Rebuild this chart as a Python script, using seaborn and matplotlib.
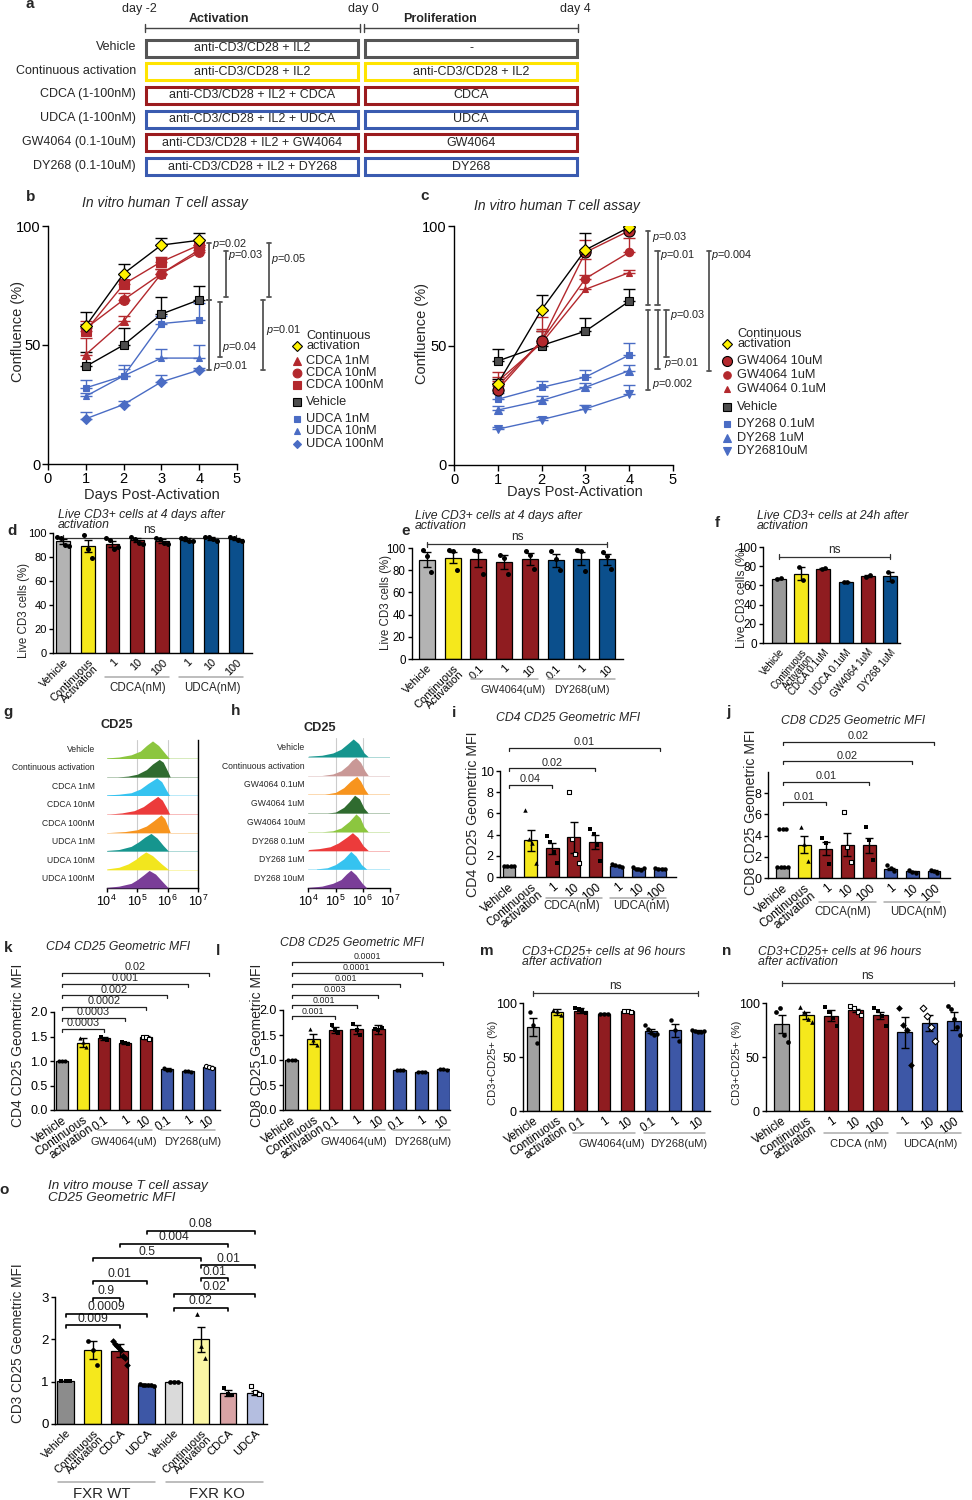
import numpy as np
import pandas as pd
import matplotlib
matplotlib.use("Agg")
import matplotlib.pyplot as plt
import matplotlib.transforms as mtransforms
from matplotlib.patches import Rectangle
import seaborn as sns
import warnings

warnings.filterwarnings("ignore")

# ----------------------------
# 1. Values
# ----------------------------

# a: treatment scheme
a_rows = ["Vehicle", "Continuous activation", "CDCA (1-100nM)", "UDCA (1-100nM)",
          "GW4064 (0.1-10uM)", "DY268 (0.1-10uM)"]
a_activation = ["anti-CD3/CD28 + IL2", "anti-CD3/CD28 + IL2", "anti-CD3/CD28 + IL2 + CDCA",
                "anti-CD3/CD28 + IL2 + UDCA", "anti-CD3/CD28 + IL2 + GW4064",
                "anti-CD3/CD28 + IL2 + DY268"]
a_prolif = ["-", "anti-CD3/CD28 + IL2", "CDCA", "UDCA", "GW4064", "DY268"]
a_edges = ["#555555", "#FFE400", "#9B1B1E", "#3A5BB0", "#9B1B1E", "#3A5BB0"]

# b / c: confluence time course (mean, upper SEM)
days = [1, 2, 3, 4]
b_groups = ["Continuous activation", "CDCA 1nM", "CDCA 10nM", "CDCA 100nM",
            "Vehicle", "UDCA 1nM", "UDCA 10nM", "UDCA 100nM"]
b_mean = [[58, 80, 92, 94], [46, 60, 80, 90], [57, 69, 80, 89], [56, 75.5, 85, 92],
          [41, 50, 63, 69], [32, 37, 59, 60.5], [28.5, 37, 44.5, 44.5], [19, 25, 34.5, 39.5]]
b_err = [[6, 4, 3, 3], [7, 2, 2, 2], [3, 3, 2, 2], [3, 2, 2, 2],
         [6, 7, 7, 6], [3.5, 4.5, 3, 7], [1.5, 3, 4, 5.5], [3, 1.5, 3, 1]]
b_pvals = ["0.02", "0.01", "0.03", "0.04", "0.05", "0.01"]
b_sig_span = [(93, 69), (69, 39.5), (89.5, 70), (68, 45), (92.7, 70.3), (69, 39.5)]

c_groups = ["Continuous activation", "GW4064 10uM", "GW4064 1uM", "GW4064 0.1uM",
            "Vehicle", "DY268 0.1uM", "DY268 1uM", "DY26810uM"]
c_mean = [[34, 65, 90, 99.5], [31.5, 52, 89, 98], [33, 52, 78, 89], [35, 51, 73.5, 80.5],
          [43.5, 50, 56, 68.5], [27.5, 32.5, 36.8, 46], [23, 27, 32.5, 39.5], [15, 19, 23.5, 29.5]]
c_err = [[2, 6, 7, 0.5], [3, 4, 5, 1.5], [4, 10, 8, 6], [4, 6, 6, 1],
         [5, 6, 5.5, 5], [2.5, 2.5, 3, 5], [1.5, 2, 2, 2.5], [1, 1, 1.5, 4]]
c_pvals = ["0.03", "0.002", "0.01", "0.01", "0.03", "0.004"]
c_sig_span = [(98, 67), (65, 31.4), (89.5, 67), (65, 40), (65, 45.3), (89.5, 39.5)]

# d: live CD3+ at 4 days (bile acids)
d_groups = ["Vehicle", "Continuous Activation", "CDCA 1", "CDCA 10", "CDCA 100",
            "UDCA 1", "UDCA 10", "UDCA 100"]
d_ticks = ["Vehicle", "Continuous\nActivation", "1", "10", "100", "1", "10", "100"]
d_mean = [93, 89, 91, 94, 93.5, 94.5, 95.5, 95]
d_sem = [2, 5, 2.5, 1.5, 1.5, 1, 1, 1]
d_pts = [[97, 96, 90, 89], [98, 87, 79], [96, 94, 87, 88], [97, 95, 92, 91],
         [96, 95, 92, 91], [96, 96, 93, 93], [97, 97, 95, 93], [97, 96, 94, 93]]

# e: live CD3+ at 4 days (synthetic ligands)
e_groups = ["Vehicle", "Continuous Activation", "GW 0.1", "GW 1", "GW 10",
            "DY 0.1", "DY 1", "DY 10"]
e_ticks = ["Vehicle", "Continuous\nActivation", "0.1", "1", "10", "0.1", "1", "10"]
e_mean = [89.5, 91.3, 89.8, 87.4, 90.4, 88.9, 90.4, 89.8]
e_sem = [7, 5, 6.6, 6.6, 5.5, 6, 6, 5]
e_pts = [[98, 93, 78], [98, 97, 80], [98, 97, 77], [94, 91, 77],
         [97, 94, 81], [97, 90, 80], [98, 97, 79], [96, 93, 81]]

# f: live CD3+ at 24 h
f_groups = ["Vehicle", "Continuous\nActivation", "CDCA 0.1uM", "UDCA 0.1uM",
            "GW4064 1uM", "DY268 1uM"]
f_mean = [67, 72.2, 77.4, 63.5, 69.8, 69.4]
f_sem = [0.8, 6.8, 0.7, 0.4, 0.8, 4.5]
f_pts = [[66.2, 67.8], [79, 65.5], [76.8, 78], [63.2, 63.8], [69, 70.6], [74, 65]]

# g / h: CD25 histograms (log10 intensity, relative height)
g_labels = ["Vehicle", "Continuous activation", "CDCA 1nM", "CDCA 10nM", "CDCA 100nM",
            "UDCA 1nM", "UDCA 10nM", "UDCA 100nM"]
g_logx = [[4.0, 4.4, 4.8, 5.1, 5.3, 5.5, 5.7, 5.9, 6.05],
          [4.35, 4.7, 5.0, 5.3, 5.5, 5.72, 5.85, 6.0, 6.08],
          [4.0, 4.4, 4.8, 5.1, 5.35, 5.64, 5.8, 5.95, 6.06],
          [4.1, 4.5, 4.9, 5.2, 5.45, 5.67, 5.82, 5.97, 6.06],
          [4.1, 4.6, 5.0, 5.3, 5.55, 5.78, 5.9, 6.0, 6.08],
          [4.0, 4.4, 4.8, 5.05, 5.25, 5.45, 5.65, 5.85, 6.02],
          [4.0, 4.4, 4.7, 4.95, 5.1, 5.28, 5.5, 5.8, 6.02],
          [4.0, 4.4, 4.8, 5.0, 5.2, 5.39, 5.6, 5.85, 6.02]]
g_height = [[0.03, 0.08, 0.2, 0.4, 0.7, 0.95, 0.7, 0.3, 0.0],
            [0.0, 0.05, 0.15, 0.4, 0.7, 0.95, 0.8, 0.3, 0.0],
            [0.03, 0.07, 0.15, 0.35, 0.65, 0.95, 0.75, 0.3, 0.0],
            [0.0, 0.06, 0.18, 0.4, 0.7, 0.95, 0.75, 0.3, 0.0],
            [0.0, 0.05, 0.15, 0.35, 0.65, 0.95, 0.75, 0.35, 0.0],
            [0.03, 0.08, 0.25, 0.5, 0.75, 0.95, 0.7, 0.3, 0.0],
            [0.03, 0.12, 0.3, 0.55, 0.75, 0.95, 0.75, 0.3, 0.0],
            [0.03, 0.1, 0.25, 0.45, 0.7, 0.95, 0.75, 0.3, 0.0]]
g_colors = ["#8CC63F", "#2F6B2F", "#35C3F0", "#EC3B3B", "#F7941E", "#16958E", "#F2E61E", "#7A3E98"]

h_labels = ["Vehicle", "Continuous activation", "GW4064 0.1uM", "GW4064 1uM", "GW4064 10uM",
            "DY268 0.1uM", "DY268 1uM", "DY268 10uM"]
h_logx = [[4.0, 4.5, 4.9, 5.2, 5.45, 5.65, 5.85, 6.05, 6.2],
          [4.5, 4.9, 5.2, 5.45, 5.6, 5.75, 5.92, 6.08, 6.2],
          [4.6, 5.0, 5.3, 5.55, 5.78, 5.92, 6.08, 6.2],
          [4.7, 5.0, 5.3, 5.5, 5.7, 5.88, 6.05, 6.2],
          [4.5, 4.9, 5.2, 5.5, 5.75, 5.9, 6.05, 6.2],
          [4.0, 4.4, 4.8, 5.1, 5.4, 5.62, 5.82, 6.02, 6.2],
          [4.3, 4.7, 5.0, 5.3, 5.56, 5.75, 5.95, 6.15],
          [4.0, 4.5, 4.9, 5.2, 5.4, 5.56, 5.75, 5.98, 6.15]]
h_height = [[0.03, 0.08, 0.2, 0.4, 0.7, 0.95, 0.7, 0.2, 0.0],
            [0.0, 0.08, 0.25, 0.55, 0.8, 0.95, 0.7, 0.25, 0.0],
            [0.0, 0.1, 0.35, 0.7, 0.95, 0.7, 0.25, 0.0],
            [0.0, 0.05, 0.3, 0.6, 0.95, 0.75, 0.25, 0.0],
            [0.0, 0.05, 0.2, 0.55, 0.95, 0.75, 0.25, 0.0],
            [0.05, 0.1, 0.2, 0.4, 0.7, 0.95, 0.7, 0.25, 0.0],
            [0.02, 0.08, 0.25, 0.55, 0.95, 0.7, 0.25, 0.0],
            [0.03, 0.1, 0.25, 0.45, 0.75, 0.95, 0.7, 0.25, 0.0]]
h_colors = ["#16958E", "#C99896", "#F7941E", "#2F6B2F", "#8CC63F", "#EC3B3B", "#35C3F0", "#7A3E98"]

# i / j: CD25 geometric MFI (bile acids)
ij_groups = d_groups
ij_ticks = ["Vehicle", "Continuous\nactivation", "1", "10", "100", "1", "10", "100"]
i_mean = [1.0, 3.45, 2.7, 3.75, 3.3, 1.05, 0.8, 0.8]
i_sem = [0.02, 1.0, 0.5, 1.45, 0.65, 0.05, 0.06, 0.04]
i_pts = [[1, 1, 1, 1], [6.3, 3.6, 3.2, 1.3], [3.9, 3.3, 2.4, 1.3], [8.0, 3.6, 2.2, 1.3],
         [4.5, 4.1, 3.0, 1.5], [1.2, 1.1, 1.0, 0.95], [0.9, 0.8, 0.75, 0.7, 0.85], [0.85, 0.8, 0.75, 0.8]]
i_sig = [(0, 2, 8.7, "0.04"), (0, 4, 10.25, "0.02"), (0, 7, 12.2, "0.01")]
j_mean = [1.0, 3.15, 2.75, 3.15, 3.1, 0.85, 0.62, 0.65]
j_sem = [0.02, 0.8, 0.6, 1.05, 0.7, 0.12, 0.08, 0.07]
j_pts = [[1, 1, 1, 1], [4.8, 3.2, 1.6], [3.8, 3.3, 1.3], [6.2, 2.9, 1.5],
         [4.8, 3.6, 1.7], [1.2, 0.9, 0.7], [0.8, 0.6, 0.5], [0.8, 0.7, 0.5]]
j_vehicle_extra = [4.6, 4.6, 4.6]
j_sig = [(0, 2, 7.16, "0.01"), (0, 4, 9.1, "0.01"), (0, 6, 11.0, "0.02"), (0, 7, 12.86, "0.02")]

# k / l / m: synthetic ligands
kl_groups = e_groups
kl_ticks = ["Vehicle", "Continuous\nactivation", "0.1", "1", "10", "0.1", "1", "10"]
k_mean = [1.0, 1.37, 1.46, 1.37, 1.48, 0.83, 0.79, 0.88]
k_sem = [0.005, 0.09, 0.03, 0.02, 0.03, 0.02, 0.01, 0.02]
k_pts = [[1, 1, 1], [1.47, 1.38, 1.28], [1.5, 1.45, 1.43], [1.39, 1.37, 1.35],
         [1.5, 1.5, 1.44], [0.85, 0.82, 0.81], [0.8, 0.79, 0.78], [0.9, 0.88, 0.86]]
k_sig = [(0, 2, 1.66, "0.0003"), (0, 3, 1.885, "0.0003"), (0, 4, 2.11, "0.0002"),
         (0, 5, 2.34, "0.002"), (0, 6, 2.575, "0.001"), (0, 7, 2.8, "0.02")]
l_mean = [1.0, 1.43, 1.6, 1.62, 1.62, 0.8, 0.77, 0.82]
l_sem = [0.005, 0.1, 0.06, 0.09, 0.09, 0.01, 0.005, 0.01]
l_pts = [[1, 1, 1], [1.62, 1.4, 1.3], [1.7, 1.6, 1.55], [1.73, 1.6, 1.5],
         [1.62, 1.6, 1.64], [0.8, 0.8, 0.8], [0.77, 0.77, 0.77], [0.83, 0.82, 0.81]]
l_sig = [(0, 2, 1.88, "0.001"), (0, 3, 2.1, "0.001"), (0, 4, 2.31, "0.003"),
         (0, 5, 2.53, "0.001"), (0, 6, 2.75, "0.0001"), (0, 7, 2.97, "0.0001")]
m_mean = [78, 91.5, 93, 90, 92.3, 73.8, 74.8, 74]
m_sem = [8.5, 2.5, 2, 0.4, 0.4, 2, 6, 1]
m_pts = [[92, 80, 63], [93.5, 93, 88.5], [95, 94, 93, 91], [90, 90, 90], [92.5, 92.3, 92],
         [80, 76, 72, 70, 71], [84, 75, 65], [75, 74, 73, 73.5, 74.5]]

# n: bile acids, CD3+CD25+
n_ticks = ij_ticks
n_mean = [80.5, 88.6, 88.3, 93.2, 88.6, 73, 81.5, 83.4]
n_sem = [8.3, 3.5, 5, 1.5, 3, 14.5, 7.5, 8]
n_pts = [[92, 95, 70, 64], [96, 92, 85, 82], [96, 92, 86, 79], [97, 95, 92, 89],
         [95, 93, 88, 79], [95, 80, 75, 43], [95, 88, 78, 65], [97, 94, 85, 78, 70]]

# o: mouse FXR WT / KO
o_groups = ["WT Vehicle", "WT Continuous", "WT CDCA", "WT UDCA",
            "KO Vehicle", "KO Continuous", "KO CDCA", "KO UDCA"]
o_ticks = ["Vehicle", "Continuous\nActivation", "CDCA", "UDCA"] * 2
o_mean = [1.02, 1.75, 1.73, 0.92, 1.0, 2.0, 0.74, 0.74]
o_sem = [0.005, 0.21, 0.15, 0.01, 0.005, 0.3, 0.07, 0.05]
o_pts = [[1.02, 1.02, 1.02], [1.96, 1.75, 1.4], [1.95, 1.9, 1.85, 1.8, 1.75, 1.6, 1.55, 1.4],
         [0.94, 0.93, 0.92, 0.91, 0.92, 0.9], [1.0, 1.0, 1.0], [2.6, 1.85, 1.55],
         [0.85, 0.7, 0.68], [0.9, 0.75, 0.72]]
o_sig = [(0, 2, 2.33, "0.009"), (0, 3, 2.61, "0.0009"), (1, 2, 2.985, "0.9"),
         (1, 3, 3.38, "0.01"), (1, 5, 3.92, "0.5"), (2, 6, 4.26, "0.004"),
         (3, 7, 4.57, "0.08"), (4, 6, 2.75, "0.02"), (4, 7, 3.08, "0.02"),
         (5, 6, 3.45, "0.01"), (5, 7, 3.75, "0.01")]

# ----------------------------
# 2. Styling
# ----------------------------
GRAY_L, GRAY, YEL, RED = "#B3B3B3", "#A0A0A0", "#F5E81C", "#8F1C20"
BLUE_D, BLUE = "#0B4F8C", "#3D57A6"
LRED, LBLUE = "#B3282D", "#4A6CC4"

sns.set_theme(style="ticks")
plt.rcParams["font.family"] = ["Liberation Sans", "DejaVu Sans"]
plt.rcParams["mathtext.fontset"] = "custom"
plt.rcParams["mathtext.rm"] = "Liberation Sans"
plt.rcParams["mathtext.it"] = "Liberation Sans:italic"
plt.rcParams["axes.linewidth"] = 1.0

W, H = 972, 1500
fig = plt.figure(figsize=(W / 100, H / 100), dpi=100)

ov = fig.add_axes([0, 0, 1, 1], zorder=20)
ov.set_xlim(0, W)
ov.set_ylim(H, 0)
ov.axis("off")


def px_axes(left, top, right, bottom):
    return fig.add_axes([left / W, 1 - bottom / H, (right - left) / W, (bottom - top) / H])


def style_ax(ax):
    sns.despine(ax=ax)
    for s in ("left", "bottom"):
        ax.spines[s].set_linewidth(1.0)
        ax.spines[s].set_color("black")
    ax.tick_params(direction="out", length=3, width=1, pad=1.5, colors="black")
    ax.set_xlabel("")
    ax.set_ylabel("")
    ax.patch.set_alpha(0)


def add_points(ax, idx, vals, mk, ms):
    # replicate dots spread evenly across the bar (scatter dot plot look)
    hollow = mk.endswith("_open")
    n = len(vals)
    step = min(0.16, 0.5 / max(n - 1, 1))
    xs = idx + (np.arange(n) - (n - 1) / 2) * step
    sns.scatterplot(x=xs, y=vals, ax=ax, marker=mk.replace("_open", ""), s=ms ** 2,
                    color="white" if hollow else "black", edgecolor="black",
                    linewidth=0.8 if hollow else 0, zorder=5, legend=False)


def bar_panel(box, centers, groups, ticks, means, sems, colors, pts, marks, ylim, yticks,
              ylabels, width=0.6, ms=3.3, ytick_fs=8.5, xt_fs=8.5, rot=45):
    left, top, right, bottom = box
    ax = px_axes(left, top, right, bottom)
    df = pd.DataFrame({"cond": groups, "val": means})
    sns.barplot(data=df, x="cond", y="val", hue="cond", order=groups, hue_order=groups,
                palette=colors, legend=False, width=width, saturation=1,
                edgecolor="black", linewidth=0.9, errorbar=None, ax=ax)
    ax.errorbar(np.arange(len(groups)), means, yerr=sems, fmt="none", ecolor="black",
                elinewidth=1.0, capsize=3, capthick=1.0, zorder=4)
    for k, (vals, mk) in enumerate(zip(pts, marks)):
        add_points(ax, k, vals, mk, ms)
    sp = (centers[1] - centers[0]) / (len(groups) - 1)
    ax.set_xlim((left - centers[0]) / sp, (right - centers[0]) / sp)
    ax.set_ylim(*ylim)
    style_ax(ax)
    ax.set_yticks(yticks)
    ax.set_yticklabels(ylabels, fontsize=ytick_fs)
    ax.set_xticks(np.arange(len(groups)))
    ax.set_xticklabels(ticks, rotation=rot, ha="right", rotation_mode="anchor", fontsize=xt_fs)
    for t in ax.get_xticklabels():
        t.set_linespacing(0.8)
    ax.tick_params(axis="x", length=0, pad=3)
    return ax


def tick_in_data(ax, px):
    lo, hi = ax.get_ylim()
    return px * (hi - lo) / (ax.get_position().height * H)


def sig_bracket(ax, i, j, y, text, fs, tick_px=3, lw=0.9, color="#222222"):
    t = tick_in_data(ax, tick_px)
    ax.plot([i, i, j, j], [y - t, y, y, y - t], color=color, lw=lw, clip_on=False, zorder=6)
    ax.annotate(text, xy=((i + j) / 2, y), xytext=(0, 0.3), textcoords="offset points",
                ha="center", va="bottom", fontsize=fs, annotation_clip=False)


def ns_bracket(ax, i, j, y, fs=8.5):
    t = tick_in_data(ax, 2.5)
    ax.plot([i, j], [y, y], color="#333333", lw=0.9, clip_on=False)
    for x in (i, j):
        ax.plot([x, x], [y - t, y + t], color="#333333", lw=0.9, clip_on=False)
    ax.annotate("ns", xy=((i + j) / 2, y), xytext=(0, 1), textcoords="offset points",
                ha="center", va="bottom", fontsize=fs, annotation_clip=False)


def group_label(ax, i0, i1, text, y_line, y_text, fs=8.2, tx=None, ext=0.3):
    bt = mtransforms.blended_transform_factory(ax.transData, fig.transFigure)
    ax.plot([i0 - ext, i1 + ext], [1 - y_line / H] * 2, transform=bt, color="#ABABAB",
            lw=1.1, clip_on=False)
    if tx is None:
        tx = (i0 + i1) / 2
    ax.text(tx, 1 - y_text / H, text, transform=bt, ha="center", va="center",
            fontsize=fs, clip_on=False)


def label(x, y, s, fs, rot=0, ha="center", va="center", **kw):
    ov.text(x, y, s, fontsize=fs, rotation=rot, ha=ha, va=va, **kw)


# ----------------------------
# 3. Panel a: scheme
# ----------------------------
for x0, x1 in [(145, 360), (364, 578)]:
    ov.plot([x0, x1], [28, 28], color="#444444", lw=1)
    for x in (x0, x1):
        ov.plot([x, x], [24, 32], color="#444444", lw=1)
label(139, 9, "day -2", 9)
label(363, 9, "day 0", 9)
label(575, 9, "day 4", 9)
label(219, 19, "Activation", 9, fontweight="bold")
label(440, 19, "Proliferation", 9, fontweight="bold")
for k, (row, act, pro, ec) in enumerate(zip(a_rows, a_activation, a_prolif, a_edges)):
    y = 48 + k * 23.7
    label(136, y - 1, row, 9, ha="right")
    for x0, txt in [(146, act), (365, pro)]:
        ov.add_patch(Rectangle((x0, y - 8.5), 212, 17, facecolor="white", edgecolor=ec, lw=2.2))
        label(x0 + 106, y, txt, 9)

# ----------------------------
# 4. Panels b / c: confluence curves
# ----------------------------
b_style = [("black", "D", "#FFF200", "black", 6), (LRED, "^", LRED, LRED, 6),
           (LRED, "o", LRED, LRED, 7), (LRED, "s", LRED, LRED, 7),
           ("black", "s", "#4D4D4D", "black", 6), (LBLUE, "s", LBLUE, LBLUE, 5),
           (LBLUE, "^", LBLUE, LBLUE, 5), (LBLUE, "D", LBLUE, LBLUE, 5)]
c_style = [("black", "D", "#FFF200", "black", 6), (LRED, "o", LRED, "black", 8),
           (LRED, "o", LRED, LRED, 6), (LRED, "^", LRED, LRED, 5),
           ("black", "s", "#4D4D4D", "black", 6), (LBLUE, "s", LBLUE, LBLUE, 5),
           (LBLUE, "^", LBLUE, LBLUE, 6), (LBLUE, "v", LBLUE, LBLUE, 6)]
b_sig_x = [4.26, 4.26, 4.7, 4.54, 5.85, 5.69]
b_sig_txt = [(4.35, 92.4), (4.37, 41.3), (4.76, 87.8), (4.61, 49), (5.9, 86), (5.78, 56.3)]
c_sig_x = [4.43, 4.43, 4.65, 4.65, 4.85, 5.82]
c_sig_txt = [(4.52, 95.5), (4.53, 33.8), (4.71, 87.9), (4.8, 42.5), (4.94, 62.6), (5.87, 87.9)]


def line_panel(box, groups, means, errs, styles, sig_x, spans, pvals, txt_pos):
    ax = px_axes(*box)
    for g, m, e, st in reversed(list(zip(groups, means, errs, styles))):
        lc, mk, fc, ec, ms = st
        ax.errorbar(days, m, yerr=[np.zeros(len(e)), e], fmt="none", ecolor=lc,
                    elinewidth=1, capsize=4, capthick=1, zorder=2)
        sns.lineplot(x=days, y=m, ax=ax, color=lc, marker=mk, markersize=ms,
                     markerfacecolor=fc, markeredgecolor=ec, markeredgewidth=0.8,
                     linewidth=1, zorder=3)
    for x, (y1, y2), p, (tx, ty) in zip(sig_x, spans, pvals, txt_pos):
        ax.plot([x, x], [y1, y2], color="#555555", lw=1.3, clip_on=False)
        for y in (y1, y2):
            ax.plot([x - 0.05, x + 0.05], [y, y], color="#555555", lw=1.3, clip_on=False)
        ax.text(tx, ty, "$p$=" + p, fontsize=7.8, ha="left", va="center", clip_on=False,
                color="#222222")
    ax.set_xlim(0, 5)
    ax.set_ylim(0, 100)
    style_ax(ax)
    ax.set_xticks(range(6))
    ax.set_yticks([0, 50, 100])
    ax.tick_params(labelsize=10.5, length=4)
    return ax


line_panel((48, 226, 237, 464), b_groups, b_mean, b_err, b_style, b_sig_x, b_sig_span,
           b_pvals, b_sig_txt)
line_panel((454, 226, 673, 465), c_groups, c_mean, c_err, c_style, c_sig_x, c_sig_span,
           c_pvals, c_sig_txt)

for (mx, tx, entries) in [(297, 306, list(zip(b_groups, b_style, [346, 361, 373, 385, 402, 419, 431, 444]))),
                          (727, 737, list(zip(c_groups, c_style, [344, 361, 375, 389, 407, 424, 438, 451])))]:
    for g, (lc, mk, fc, ec, ms), y in entries:
        ov.plot([mx], [y], marker=mk, ms=ms * 0.9, mfc=fc, mec=ec, mew=0.8, ls="none")
        txt = "Continuous\nactivation" if g.startswith("Continuous") else g
        ty = y - 5 if g.startswith("Continuous") else y
        label(tx, ty, txt, 9.2, ha="left", linespacing=0.85)

label(165, 203, "In vitro human T cell assay", 10, style="italic")
label(557, 206, "In vitro human T cell assay", 10, style="italic")
label(18, 332, "Confluence (%)", 10.5, rot=90)
label(422, 333, "Confluence (%)", 10.5, rot=90)
label(152, 495, "Days Post-Activation", 10.5)
label(575, 492, "Days Post-Activation", 10.5)

# ----------------------------
# 5. Panels d / e / f: viability
# ----------------------------
pct_ticks = [0, 20, 40, 60, 80, 100]
pct_labels = [str(v) for v in pct_ticks]
d_colors = [GRAY_L, YEL, RED, RED, RED, BLUE_D, BLUE_D, BLUE_D]
ax = bar_panel((53, 533, 252, 653), (63, 236), d_groups, d_ticks, d_mean, d_sem, d_colors,
               d_pts, ["o"] * 8, (0, 100), pct_ticks, pct_labels, width=0.55, ms=3.6,
               ytick_fs=8, xt_fs=7.8)
ns_bracket(ax, 0, 7, 96)
group_label(ax, 2, 4, "CDCA(nM)", 677, 688, 8.3, tx=3.03)
group_label(ax, 5, 7, "UDCA(nM)", 677, 688, 8.3, tx=6.03)
label(58, 520, "Live CD3+ cells at 4 days after\nactivation", 8.8, ha="left", style="italic",
      linespacing=0.85)
label(24, 610, "Live CD3 cells (%)", 8.3, rot=90)

ax = bar_panel((412, 548, 623, 659), (427, 607), e_groups, e_ticks, e_mean, e_sem, d_colors,
               e_pts, ["o"] * 8, (0, 100), pct_ticks, pct_labels, width=0.62, ms=3.6,
               ytick_fs=8.3, xt_fs=8)
ns_bracket(ax, 0, 7, 103.6)
group_label(ax, 2, 4, "GW4064(uM)", 679, 690, 7.8, tx=3.35)
group_label(ax, 5, 7, "DY268(uM)", 679, 690, 7.8, tx=6.03)
label(415, 521, "Live CD3+ cells at 4 days after\nactivation", 8.8, ha="left", style="italic",
      linespacing=0.85)
label(386, 603, "Live CD3 cells (%)", 8.3, rot=90)

f_colors = ["#999999", YEL, RED, BLUE_D, RED, BLUE_D]
ax = bar_panel((763, 547, 900, 643), (779, 890), f_groups, f_groups, f_mean, f_sem, f_colors,
               f_pts, ["o"] * 6, (0, 100), pct_ticks, pct_labels, width=0.63, ms=3.4,
               ytick_fs=8.5, xt_fs=7.0, rot=50)
ns_bracket(ax, 0, 5, 89.6)
label(757, 521, "Live CD3+ cells at 24h after\nactivation", 8.8, ha="left", style="italic",
      linespacing=0.85)
label(742, 598, "Live CD3 cells (%)", 8.8, rot=90)

# ----------------------------
# 6. Panels g / h: CD25 histograms
# ----------------------------


def hist_panel(box, labels, logx, heights, colors, gap_pt, right_spine):
    ax = px_axes(*box)
    n = len(labels)
    lab_tr = mtransforms.blended_transform_factory(ax.transAxes, ax.transData)
    for k, (lab, xs, hs, col) in enumerate(zip(labels, logx, heights, colors)):
        base = n - 1 - k
        ax.axhline(base, color=col, lw=0.7, alpha=0.35, zorder=1)
        ax.fill_between(10 ** np.array(xs), base, base + np.array(hs), color=col, lw=0, zorder=3)
        ax.annotate(lab, xy=(0, base + 0.5), xycoords=lab_tr, xytext=(-gap_pt, 0),
                    textcoords="offset points", ha="right", va="center", fontsize=6.2)
    for v in (1e5, 1e6):
        ax.axvline(v, color="#CCCCCC", lw=0.8, zorder=0)
    ax.set_xscale("log")
    ax.set_xlim(1e4, 1e7)
    ax.set_ylim(0, n)
    style_ax(ax)
    ax.spines["left"].set_visible(False)
    if right_spine:
        ax.spines["right"].set_visible(True)
        ax.spines["right"].set_color("black")
    ax.set_yticks([])
    ax.set_xticks([1e4, 1e5, 1e6, 1e7])
    ax.set_xticklabels(["$10^4$", "$10^5$", "$10^6$", "$10^7$"], fontsize=9)
    ax.tick_params(axis="x", which="minor", length=2, width=0.7)
    return ax


hist_panel((106.7, 740, 198.3, 888), g_labels, g_logx, g_height, g_colors, 8.4, True)
hist_panel((308.3, 738, 390, 888), h_labels, h_logx, h_height, h_colors, 2.5, False)
label(117, 725, "CD25", 9.2, fontweight="bold")
label(320, 728, "CD25", 9.2, fontweight="bold")

# ----------------------------
# 7. Panels i / j: CD25 MFI, bile acids
# ----------------------------
ij_colors = [GRAY, YEL, RED, RED, RED, BLUE, BLUE, BLUE]
ij_marks = ["o", "^", "s", "s_open", "s", "o", "o", "o"]
ax = bar_panel((500, 771, 676, 877), (509, 660), ij_groups, ij_ticks, i_mean, i_sem, ij_colors,
               i_pts, ij_marks, (0, 10), [0, 2, 4, 6, 8, 10], ["0", "2", "4", "6", "8", "10"],
               width=0.6, ms=3.2, ytick_fs=9, xt_fs=8.6, rot=40)
for i0, i1, y, p in i_sig:
    sig_bracket(ax, i0, i1, y, p, 7.8)
group_label(ax, 2, 4, "CDCA(nM)", 898, 906, 8.3, tx=2.92)
group_label(ax, 5, 7, "UDCA(nM)", 898, 906, 8.3, tx=6.12)
label(568, 718, "CD4 CD25 Geometric MFI", 8.8, style="italic")
label(473, 814, "CD4 CD25 Geometric MFI", 10.2, rot=90)

ax = bar_panel((768, 772, 950, 878), (782.6, 934), ij_groups, ij_ticks, j_mean, j_sem, ij_colors,
               j_pts, ij_marks, (0, 10), [0, 2, 4, 6, 8], ["0", "2", "4", "6", "8"],
               width=0.6, ms=3.2, ytick_fs=9, xt_fs=8.6, rot=40)
add_points(ax, 0, j_vehicle_extra, "o", 3.2)
for i0, i1, y, p in j_sig:
    sig_bracket(ax, i0, i1, y, p, 7.8)
group_label(ax, 2, 4, "CDCA(nM)", 902, 912, 8.3, tx=2.8)
group_label(ax, 5, 7, "UDCA(nM)", 902, 912, 8.3, tx=6.3)
label(853, 721, "CD8 CD25 Geometric MFI", 8.8, style="italic")
label(751, 812, "CD8 CD25 Geometric MFI", 10.2, rot=90)

# ----------------------------
# 8. Panels k / l: CD25 MFI, synthetic ligands
# ----------------------------
mfi_ticks = [0, 0.5, 1.0, 1.5, 2.0]
mfi_labels = ["0.0", "0.5", "1.0", "1.5", "2.0"]
ax = bar_panel((54, 1012, 220, 1110), (62, 209), kl_groups, kl_ticks, k_mean, k_sem, ij_colors,
               k_pts, ["o", "^", "s", "s", "s_open", "o", "o", "o_open"], (0, 2.0),
               mfi_ticks, mfi_labels, width=0.6, ms=3.0, ytick_fs=9, xt_fs=8.6, rot=35)
for i0, i1, y, p in k_sig:
    sig_bracket(ax, i0, i1, y, p, 7.8)
group_label(ax, 2, 4, "GW4064(uM)", 1130, 1142, 8.0, tx=2.95)
group_label(ax, 5, 7, "DY268(uM)", 1130, 1142, 8.0, tx=6.2)
label(118, 947, "CD4 CD25 Geometric MFI", 8.8, style="italic")
label(18, 1045, "CD4 CD25 Geometric MFI", 10, rot=90)

ax = bar_panel((283, 1010, 450, 1110), (291.7, 443.3), kl_groups, kl_ticks, l_mean, l_sem,
               ij_colors, l_pts, ["o", "^", "s", "s", "s", "o", "o", "o"], (0, 2.0),
               mfi_ticks, mfi_labels, width=0.6, ms=3.0, ytick_fs=9, xt_fs=8.6, rot=35)
for i0, i1, y, p in l_sig:
    sig_bracket(ax, i0, i1, y, p, 6.4)
group_label(ax, 2, 4, "GW4064(uM)", 1130, 1142, 8.0, tx=2.85)
group_label(ax, 5, 7, "DY268(uM)", 1130, 1142, 8.0, tx=6.06)
label(352, 943, "CD8 CD25 Geometric MFI", 8.8, style="italic")
label(257, 1045, "CD8 CD25 Geometric MFI", 10, rot=90)

# ----------------------------
# 9. Panels m / n: CD3+CD25+ %
# ----------------------------
ax = bar_panel((523, 1003, 710, 1111), (533.3, 698.3), kl_groups, kl_ticks, m_mean, m_sem,
               ij_colors, m_pts, ["o", "^", "s", "o", "s_open", "o", "o", "o"], (0, 100),
               [0, 50, 100], ["0", "50", "100"], width=0.52, ms=3.2, ytick_fs=9, xt_fs=8.4,
               rot=35)
ns_bracket(ax, 0, 7, 109.2)
group_label(ax, 2, 4, "GW4064(uM)", 1133, 1144, 8.0, tx=3.34)
group_label(ax, 5, 7, "DY268(uM)", 1133, 1144, 8.0, tx=6.18)
label(522, 957, "CD3+CD25+ cells at 96 hours\nafter activation", 8.8, ha="left", style="italic",
      linespacing=0.85)
label(493, 1063, "CD3+CD25+ (%)", 8, rot=90)

ax = bar_panel((766, 1003, 962, 1111), (781.7, 954), ij_groups, n_ticks, n_mean, n_sem,
               ij_colors, n_pts, ["o", "^", "s", "s_open", "s", "D", "D_open", "o"], (0, 100),
               [0, 50, 100], ["0", "50", "100"], width=0.6, ms=3.4, ytick_fs=9, xt_fs=8.4,
               rot=35)
ns_bracket(ax, 0, 7, 118.5)
group_label(ax, 2, 4, "CDCA (nM)", 1133, 1144, 8.0, tx=3.14)
group_label(ax, 5, 7, "UDCA(nM)", 1133, 1144, 8.0, tx=6.03)
label(758, 957, "CD3+CD25+ cells at 96 hours\nafter activation", 8.8, ha="left", style="italic",
      linespacing=0.85)
label(737, 1063, "CD3+CD25+ (%)", 8, rot=90)

# ----------------------------
# 10. Panel o: mouse FXR WT / KO
# ----------------------------
o_colors = ["#8C8C8C", YEL, RED, BLUE, "#DADADA", "#FBF6A4", "#D9A3A5", "#B4BEE0"]
ax = bar_panel((55, 1297, 267, 1424), (65.7, 255), o_groups, o_ticks, o_mean, o_sem, o_colors,
               o_pts, ["s", "o", "D", "o", "o", "^", "s", "s_open"], (0, 3), [0, 1, 2, 3],
               ["0", "1", "2", "3"], width=0.62, ms=3.4, ytick_fs=9.5, xt_fs=8.0, rot=45)
for i0, i1, y, p in o_sig:
    sig_bracket(ax, i0, i1, y, p, 8.8, tick_px=3, lw=1.2, color="black")
group_label(ax, 0, 3, "FXR WT", 1482, 1494, 10.8, tx=1.33)
group_label(ax, 4, 7, "FXR KO", 1482, 1494, 10.8, tx=5.58)
label(48, 1192, "In vitro mouse T cell assay\nCD25 Geometric MFI", 9.7, ha="left",
      style="italic", linespacing=1.1)
label(18, 1343, "CD3 CD25 Geometric MFI", 9.8, rot=90)

# ----------------------------
# 11. Panel letters
# ----------------------------
for letter, x, y in [("a", 30, 4), ("b", 31, 197), ("c", 425, 196), ("d", 12, 531),
                     ("e", 406, 531), ("f", 717, 523), ("g", 8, 712), ("h", 236, 711),
                     ("i", 454, 713), ("j", 728, 712), ("k", 8, 948), ("l", 218, 951),
                     ("m", 487, 951), ("n", 727, 951), ("o", 4, 1190)]:
    label(x, y, letter, 11, fontweight="bold")

fig.savefig("out.png", dpi=100)
